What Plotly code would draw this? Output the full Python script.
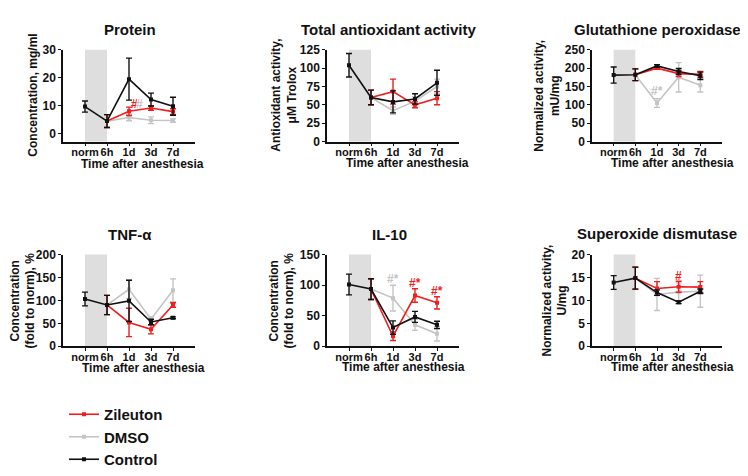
import plotly.graph_objects as go
from plotly.subplots import make_subplots

# --- colours ---
RED = "#f01e1e"
GRAY = "#c4c4c4"
BLACK = "#111111"
BAND = "#dedede"
FONT = "Liberation Sans"

# the page body adds an 8px margin, so the figure is drawn 8px smaller and offset
PAGE_MARGIN = 8
W, H = 748 - PAGE_MARGIN, 476 - PAGE_MARGIN

categories = ["norm", "6h", "1d", "3d", "7d"]
cats_treat = ["6h", "1d", "3d", "7d"]

# Protein, mg/ml
protein_ctrl = [9.7, 4.5, 19.5, 12.2, 9.8]
protein_ctrl_err = [2.0, 2.3, 7.5, 2.3, 3.2]
protein_zil = [4.5, 8.0, 9.2, 7.9]
protein_zil_err = [2.3, 1.5, 0.8, 1.0]
protein_dmso = [4.5, 5.8, 4.8, 4.7]
protein_dmso_err = [2.3, 1.2, 1.2, 0.6]

# Total antioxidant activity, uM Trolox
taa_ctrl = [104, 60, 54, 58, 80]
taa_ctrl_err = [16, 10, 15, 7, 17]
taa_zil = [60, 68, 50, 59]
taa_zil_err = [10, 17, 4, 9]
taa_dmso = [60, 42, 55, 75]
taa_dmso_err = [10, 5, 6, 10]

# Glutathione peroxidase, mU/mg
gpx_ctrl = [181, 182, 206, 191, 179]
gpx_ctrl_err = [22, 16, 3, 8, 10]
gpx_zil = [182, 200, 185, 183]
gpx_zil_err = [16, 3, 8, 8]
gpx_dmso = [182, 105, 175, 153]
gpx_dmso_err = [16, 12, 40, 18]

# TNF-alpha, % of norm
tnf_ctrl = [103, 90, 99, 53, 62]
tnf_ctrl_err = [15, 21, 45, 6, 2]
tnf_zil = [90, 52, 37, 90]
tnf_zil_err = [21, 31, 10, 5]
tnf_dmso = [90, 124, 59, 122]
tnf_dmso_err = [21, 20, 5, 25]

# IL-10, % of norm
il10_ctrl = [101, 93.5, 30.6, 48, 35]
il10_ctrl_err = [17, 17, 11, 9, 6]
il10_zil = [93.5, 16.4, 83, 71]
il10_zil_err = [17, 7, 11, 10]
il10_dmso = [93.5, 78.7, 35, 20.6]
il10_dmso_err = [17, 21, 9, 12]

# Superoxide dismutase, U/mg
sod_ctrl = [13.9, 14.86, 11.7, 9.6, 12.0]
sod_ctrl_err = [1.5, 2.4, 0.6, 0.3, 0.5]
sod_zil = [14.86, 12.6, 12.96, 12.9]
sod_zil_err = [2.4, 1.5, 1.2, 1.2]
sod_dmso = [14.86, 11.3, 11.8, 12.0]
sod_dmso_err = [2.4, 3.5, 2.0, 3.5]

panels = [
    dict(title="Protein", ytitle="Concentration, mg/ml",
         ctrl=(protein_ctrl, protein_ctrl_err), zil=(protein_zil, protein_zil_err),
         dmso=(protein_dmso, protein_dmso_err), yrange=[-2.8, 30], dtick=10,
         marks=[("1d", 10.6, "#", RED, 5), ("1d", 10.6, "#", GRAY, 10)]),
    dict(title="Total antioxidant activity", ytitle="Antioxidant activity,<br>\u03bcM Trolox",
         ctrl=(taa_ctrl, taa_ctrl_err), zil=(taa_zil, taa_zil_err),
         dmso=(taa_dmso, taa_dmso_err), yrange=[0, 125], dtick=25, marks=[]),
    dict(title="Glutathione peroxidase", ytitle="Normalized activity,<br>mU/mg",
         ctrl=(gpx_ctrl, gpx_ctrl_err), zil=(gpx_zil, gpx_zil_err),
         dmso=(gpx_dmso, gpx_dmso_err), yrange=[0, 250], dtick=50,
         marks=[("1d", 137, "#*", GRAY, 0)]),
    dict(title="TNF-\u03b1", ytitle="Concentration<br>(fold to norm), %",
         ctrl=(tnf_ctrl, tnf_ctrl_err), zil=(tnf_zil, tnf_zil_err),
         dmso=(tnf_dmso, tnf_dmso_err), yrange=[0, 200], dtick=50, marks=[]),
    dict(title="IL-10", ytitle="Concentration<br>(fold to norm), %",
         ctrl=(il10_ctrl, il10_ctrl_err), zil=(il10_zil, il10_zil_err),
         dmso=(il10_dmso, il10_dmso_err), yrange=[0, 150], dtick=50,
         marks=[("1d", 110, "#*", GRAY, 0), ("3d", 104, "#*", RED, 0), ("7d", 90, "#*", RED, 0)]),
    dict(title="Superoxide dismutase", ytitle="Normalized activity,<br>U/mg",
         ctrl=(sod_ctrl, sod_ctrl_err), zil=(sod_zil, sod_zil_err),
         dmso=(sod_dmso, sod_dmso_err), yrange=[0, 20], dtick=5,
         marks=[("3d", 15.4, "#", RED, 0)]),
]

# pixel layout (page coordinates) of each plot area
col_px = [(63, 195), (327, 459), (592, 722)]
row_px = [(44, 139), (256, 351)]
ytitle_x = [[33, 284, 547], [23, 282, 555]]
title_px = [[(130, 23), (388, 23), (657, 23)], [(130, 235), (390, 235), (657, 234)]]
xtitle_px = [[(142, 162), (407, 161), (672, 161)], [(143, 374), (403, 372), (672, 372)]]

fig = make_subplots(rows=2, cols=3)

def px_x(v):
    return (v - PAGE_MARGIN) / W

def px_y(v):
    return 1 - (v - PAGE_MARGIN) / H

def label(text, x, y, size, **kw):
    return dict(text="<b>%s</b>" % text, x=px_x(x), y=px_y(y), xref="paper", yref="paper",
                xanchor="center", yanchor="middle", showarrow=False,
                font=dict(family=FONT, size=size, color="#111"), **kw)

annotations = []
for i, p in enumerate(panels):
    r, c = divmod(i, 3)
    show = i == 0
    for name, key, col, xs in [("DMSO", "dmso", GRAY, cats_treat),
                               ("Zileuton", "zil", RED, cats_treat),
                               ("Control", "ctrl", BLACK, categories)]:
        vals, err = p[key]
        fig.add_trace(go.Scatter(
            x=xs, y=vals, name=name, mode="lines+markers",
            line=dict(color=col, width=1.6),
            marker=dict(color=col, size=4, symbol="square"),
            error_y=dict(type="data", array=err, color=col, thickness=1.4, width=3),
            showlegend=show,
            legendrank={"Zileuton": 1, "DMSO": 2, "Control": 3}[name],
        ), row=r + 1, col=c + 1)

    fig.add_vrect(x0="norm", x1="6h", fillcolor=BAND, line_width=0, layer="below",
                  row=r + 1, col=c + 1)

    ax = "" if i == 0 else str(i + 1)
    (x0, x1), (y0, y1) = col_px[c], row_px[r]
    fig.layout["xaxis" + ax].update(
        domain=[px_x(x0), px_x(x1)], range=[-1, 5], type="category",
        categoryorder="array", categoryarray=categories, tickangle=0,
        showline=True, linecolor=BLACK, linewidth=1.5, ticks="outside", ticklen=3,
        tickcolor=BLACK, showgrid=False, zeroline=False, ticklabelstandoff=-3,
        tickfont=dict(family=FONT, size=11, color="#111", weight="bold"),
        anchor="y" + ax,
    )
    fig.layout["yaxis" + ax].update(
        domain=[px_y(y1), px_y(y0)], range=p["yrange"], dtick=p["dtick"], tick0=0,
        showline=True, linecolor=BLACK, linewidth=1.5, ticks="outside", ticklen=3,
        tickcolor=BLACK, showgrid=False, zeroline=False,
        tickfont=dict(family=FONT, size=12, color="#111", weight="bold"),
        anchor="x" + ax,
    )

    tx, ty = title_px[r][c]
    annotations.append(label(p["title"], tx, ty, 15))
    annotations.append(label(p["ytitle"], ytitle_x[r][c], (y0 + y1) / 2, 12, textangle=-90))
    xx, xy = xtitle_px[r][c]
    annotations.append(label("Time after anesthesia", xx, xy, 12))
    for cat, yv, txt, col, shift in p["marks"]:
        annotations.append(dict(text="<b>%s</b>" % txt, x=cat, y=yv,
                                xref="x" + ax, yref="y" + ax, showarrow=False,
                                xanchor="center", yanchor="middle",
                                xshift=shift, font=dict(family=FONT, size=12, color=col)))

fig.update_layout(
    width=W, height=H,
    margin=dict(l=0, r=0, t=0, b=0),
    paper_bgcolor="white", plot_bgcolor="white",
    annotations=annotations,
    legend=dict(x=px_x(64), y=px_y(405), xanchor="left", yanchor="top",
                font=dict(family=FONT, size=15, color="#111", weight="bold"),
                bgcolor="rgba(0,0,0,0)", traceorder="normal"),
)

fig.write_html("out.html")
